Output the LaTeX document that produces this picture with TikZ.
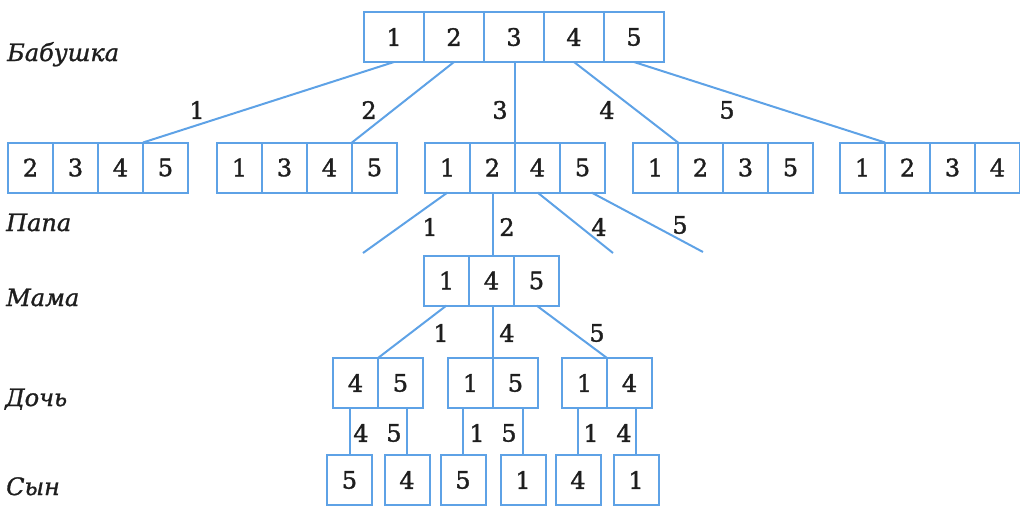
\documentclass[tikz,border=0pt]{standalone}
\usepackage{fontspec}
\setmainfont{DejaVu Serif}
\newfontfamily\cellfont{DejaVu Serif}[FakeBold=1.4]
\newfontfamily\genfont{DejaVu Serif Italic}[FakeBold=1.2]
\usepackage{xcolor}
\usepackage{tikz}
\usetikzlibrary{positioning,calc}
\definecolor{treeblue}{HTML}{5EA2E6}
\definecolor{inkdark}{HTML}{1E1E1E}
\tikzset{
  tcell/.style={draw=treeblue, line width=2pt, minimum width=45pt, minimum height=50pt, inner sep=0pt, outer sep=0pt, font=\cellfont\fontsize{24}{24}\selectfont, text=inkdark},
  tcellwide/.style={tcell, minimum width=60pt},
  tedge/.style={treeblue, line width=2pt},
  tnum/.style={font=\cellfont\fontsize{24}{24}\selectfont, text=inkdark, inner sep=0pt},
  tgen/.style={font=\genfont\fontsize{24}{24}\selectfont, text=inkdark, anchor=base west, inner sep=0pt},
}

\begin{document}
\begin{tikzpicture}[x=1pt, y=-1pt, node distance=0pt]
  \useasboundingbox (0,0) rectangle (1020,507);
  % generations
  \node[tgen] (gen1) at (7,61) {Бабушка};
  \node[tgen] (gen2) at (6,231) {Папа};
  \node[tgen] (gen3) at (6,306) {Мама};
  \node[tgen] (gen4) at (5,406) {Дочь};
  \node[tgen] (gen5) at (6,495) {Сын};
  % grandmother
  \node[tcellwide] (g1) at (394,37) {1};
  \node[tcellwide, right=of g1] (g2) {2};
  \node[tcellwide, right=of g2] (g3) {3};
  \node[tcellwide, right=of g3] (g4) {4};
  \node[tcellwide, right=of g4] (g5) {5};
  % father candidates
  \node[tcell] (f1a) at (30.5,167.5) {2};
  \node[tcell, right=of f1a] (f1b) {3};
  \node[tcell, right=of f1b] (f1c) {4};
  \node[tcell, right=of f1c] (f1d) {5};
  \node[tcell] (f2a) at (239.5,167.5) {1};
  \node[tcell, right=of f2a] (f2b) {3};
  \node[tcell, right=of f2b] (f2c) {4};
  \node[tcell, right=of f2c] (f2d) {5};
  \node[tcell] (f3a) at (447.5,167.5) {1};
  \node[tcell, right=of f3a] (f3b) {2};
  \node[tcell, right=of f3b] (f3c) {4};
  \node[tcell, right=of f3c] (f3d) {5};
  \node[tcell] (f4a) at (655.5,167.5) {1};
  \node[tcell, right=of f4a] (f4b) {2};
  \node[tcell, right=of f4b] (f4c) {3};
  \node[tcell, right=of f4c] (f4d) {5};
  \node[tcell] (f5a) at (862.5,167.5) {1};
  \node[tcell, right=of f5a] (f5b) {2};
  \node[tcell, right=of f5b] (f5c) {3};
  \node[tcell, right=of f5c] (f5d) {4};
  % mother
  \node[tcell] (m1) at (446.5,280.5) {1};
  \node[tcell, right=of m1] (m2) {4};
  \node[tcell, right=of m2] (m3) {5};
  % daughter
  \node[tcell] (d1a) at (355.5,383) {4};
  \node[tcell, right=of d1a] (d1b) {5};
  \node[tcell] (d2a) at (470.5,383) {1};
  \node[tcell, right=of d2a] (d2b) {5};
  \node[tcell] (d3a) at (584.5,383) {1};
  \node[tcell, right=of d3a] (d3b) {4};
  % son
  \node[tcell] (s1) at (349.5,480) {5};
  \node[tcell] (s2) at (407,480) {4};
  \node[tcell] (s3) at (463,480) {5};
  \node[tcell] (s4) at (523,480) {1};
  \node[tcell] (s5) at (578,480) {4};
  \node[tcell] (s6) at (636,480) {1};
  % loose ends
  \coordinate (pf1) at (363,253);
  \coordinate (pf4) at (613,253);
  \coordinate (pf5) at (703,252);
  % edges
  \draw[tedge] (g1.south) -- (f1d.north west);
  \draw[tedge] (g2.south) -- (f2d.north west);
  \draw[tedge] (f3c.north west |- g3.south) -- (f3c.north west);
  \draw[tedge] (g4.south) -- (f4b.north west);
  \draw[tedge] (g5.south) -- (f5b.north west);
  \draw[tedge] (f3a.south) -- (pf1);
  \draw[tedge] (f3b.south) -- (f3b.south |- m2.north);
  \draw[tedge] (f3c.south) -- (pf4);
  \draw[tedge] ([xshift=9pt]f3d.south) -- (pf5);
  \draw[tedge] (m1.south) -- (d1b.north west);
  \draw[tedge] (d2b.north west |- m2.south) -- (d2b.north west);
  \draw[tedge] (m3.south) -- (d3b.north west);
  \draw[tedge] (s1.north |- d1a.south) -- (s1.north);
  \draw[tedge] (s2.north |- d1b.south) -- (s2.north);
  \draw[tedge] (s3.north |- d2a.south) -- (s3.north);
  \draw[tedge] (s4.north |- d2b.south) -- (s4.north);
  \draw[tedge] (s5.north |- d3a.south) -- (s5.north);
  \draw[tedge] (s6.north |- d3b.south) -- (s6.north);
  % edge labels
  \node[tnum] (lg1) at (197,110) {1};
  \node[tnum] (lg2) at (369,110) {2};
  \node[tnum] (lg3) at (500,110) {3};
  \node[tnum] (lg4) at (607,110) {4};
  \node[tnum] (lg5) at (727,110) {5};
  \node[tnum] (lf1) at (430,227) {1};
  \node[tnum] (lf2) at (507,227) {2};
  \node[tnum] (lf4) at (599,227) {4};
  \node[tnum] (lf5) at (680,225) {5};
  \node[tnum] (lm1) at (441,333) {1};
  \node[tnum] (lm4) at (507,333) {4};
  \node[tnum] (lm5) at (597,333) {5};
  \node[tnum] (ld1) at (361,433) {4};
  \node[tnum] (ld2) at (394,433) {5};
  \node[tnum] (ld3) at (477,433) {1};
  \node[tnum] (ld4) at (509,433) {5};
  \node[tnum] (ld5) at (591,433) {1};
  \node[tnum] (ld6) at (624,433) {4};
\end{tikzpicture}
\end{document}
